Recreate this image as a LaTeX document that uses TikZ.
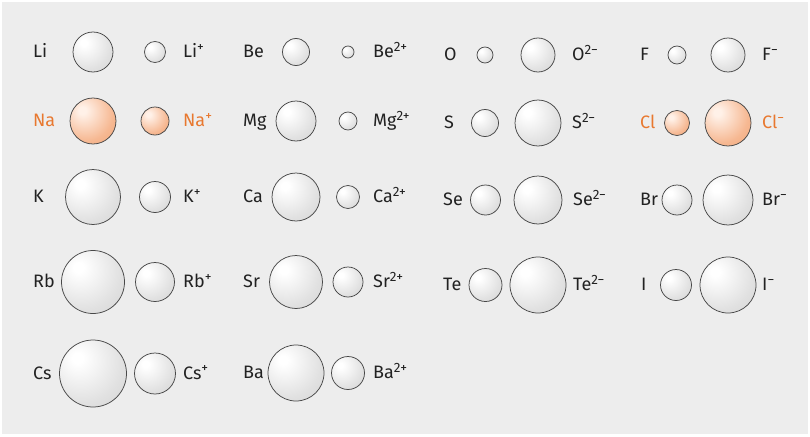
\documentclass[tikz,border=0pt]{standalone}
\usepackage{fontspec}
\setmainfont{Fira Sans}
\definecolor{bgc}{HTML}{EDEDED}
\definecolor{sphedge}{HTML}{C6C6C6}
\definecolor{sphmid}{HTML}{E1E1E1}
\definecolor{orgedge}{HTML}{EC9560}
\definecolor{orgmid}{HTML}{F6B892}
\definecolor{orghi}{HTML}{FFF1E8}
\definecolor{outl}{HTML}{484848}
\definecolor{txt}{HTML}{222222}
\definecolor{orgtxt}{HTML}{E8782F}
\pgfdeclareradialshading{graysph}{\pgfpoint{-12bp}{12bp}}{color(0bp)=(white); color(4bp)=(white); color(30bp)=(sphmid); color(62bp)=(sphedge); color(100bp)=(sphedge)}
\pgfdeclareradialshading{orgsph}{\pgfpoint{-12bp}{12bp}}{color(0bp)=(orghi); color(4bp)=(orghi); color(30bp)=(orgmid); color(62bp)=(orgedge); color(100bp)=(orgedge)}
\newcommand\chg[1]{\raisebox{0.36em}{\fontsize{13.5}{13.5}\selectfont #1}}
\tikzset{
  ball/.style={circle, draw=outl, line width=0.75pt, inner sep=0pt, shade, shading=graysph, minimum size=#1},
  oball/.style={circle, draw=outl, line width=0.75pt, inner sep=0pt, shade, shading=orgsph, minimum size=#1},
  lbl/.style={anchor=base west, inner sep=0pt, text=txt, font=\fontsize{18}{18}\selectfont},
  olbl/.style={lbl, text=orgtxt}
}
\begin{document}
\begin{tikzpicture}[x=1pt,y=-1pt]
\useasboundingbox (0,0) rectangle (810,436);
\fill[white] (0,0) rectangle (810,436);
\fill[bgc] (2,2) rectangle (808,434);
% group 1
\node[lbl]  (tLi)  at (33,57.5)  {Li};
\node[ball=40pt] (Li) at (93,52) {};
\node[ball=21pt] (Lip) at (155,52) {};
\node[lbl]  (tLip) at (183,57.5) {Li\chg{+}};
\node[olbl] (tNa)  at (33,126.5) {Na};
\node[oball=46pt] (Na) at (93,121) {};
\node[oball=28pt] (Nap) at (155,121) {};
\node[olbl] (tNap) at (183,126.5) {Na\chg{+}};
\node[lbl]  (tK)   at (33,202.5) {K};
\node[ball=55pt] (K) at (93,197) {};
\node[ball=31pt] (Kp) at (155,197) {};
\node[lbl]  (tKp)  at (183,202.5) {K\chg{+}};
\node[lbl]  (tRb)  at (33,287.5) {Rb};
\node[ball=63pt] (Rb) at (93,282) {};
\node[ball=39pt] (Rbp) at (155,282) {};
\node[lbl]  (tRbp) at (183,287.5) {Rb\chg{+}};
\node[lbl]  (tCs)  at (33,379) {Cs};
\node[ball=67pt] (Cs) at (93,373.5) {};
\node[ball=41pt] (Csp) at (155,373.5) {};
\node[lbl]  (tCsp) at (183,379) {Cs\chg{+}};
% group 2
\node[lbl]  (tBe)  at (243,57.5)  {Be};
\node[ball=27pt] (Be) at (296,52) {};
\node[ball=12pt] (Bep) at (348,52) {};
\node[lbl]  (tBep) at (373,57.5) {Be\chg{2+}};
\node[lbl]  (tMg)  at (243,126.5) {Mg};
\node[ball=40pt] (Mg) at (296,121) {};
\node[ball=18pt] (Mgp) at (348,121) {};
\node[lbl]  (tMgp) at (373,126.5) {Mg\chg{2+}};
\node[lbl]  (tCa)  at (243,202.5) {Ca};
\node[ball=48pt] (Ca) at (296,197) {};
\node[ball=23pt] (Cap) at (348,197) {};
\node[lbl]  (tCap) at (373,202.5) {Ca\chg{2+}};
\node[lbl]  (tSr)  at (243,287.5) {Sr};
\node[ball=53pt] (Sr) at (296,282) {};
\node[ball=30pt] (Srp) at (348,282) {};
\node[lbl]  (tSrp) at (373,287.5) {Sr\chg{2+}};
\node[lbl]  (tBa)  at (243,378.5) {Ba};
\node[ball=56pt] (Ba) at (296,373) {};
\node[ball=33pt] (Bap) at (348,373) {};
\node[lbl]  (tBap) at (373,378.5) {Ba\chg{2+}};
% group 3
\node[lbl]  (tO)   at (444,60.5) {O};
\node[ball=16pt] (O) at (485,55) {};
\node[ball=34pt] (Om) at (538,55) {};
\node[lbl]  (tOm)  at (572,60.5) {O\chg{2−}};
\node[lbl]  (tS)   at (444,128.5) {S};
\node[ball=27pt] (S) at (485,123) {};
\node[ball=46pt] (Sm) at (538,123) {};
\node[lbl]  (tSm)  at (572,128.5) {S\chg{2−}};
\node[lbl]  (tSe)  at (443,205.5) {Se};
\node[ball=30pt] (Se) at (485.5,200) {};
\node[ball=48pt] (Sem) at (538,200) {};
\node[lbl]  (tSem) at (573,205.5) {Se\chg{2−}};
\node[lbl]  (tTe)  at (443,290.5) {Te};
\node[ball=33pt] (Te) at (485.5,285) {};
\node[ball=56pt] (Tem) at (538,285) {};
\node[lbl]  (tTem) at (573,290.5) {Te\chg{2−}};
% group 4
\node[lbl]  (tF)   at (640,60.5) {F};
\node[ball=18pt] (F) at (677,55) {};
\node[ball=34pt] (Fm) at (728,55) {};
\node[lbl]  (tFm)  at (762,60.5) {F\chg{−}};
\node[olbl] (tCl)  at (640,128.5) {Cl};
\node[oball=25pt] (Cl) at (677,123) {};
\node[oball=46pt] (Clm) at (728,123) {};
\node[olbl] (tClm) at (762,128.5) {Cl\chg{−}};
\node[lbl]  (tBr)  at (640,205.5) {Br};
\node[ball=30pt] (Br) at (677,200) {};
\node[ball=50pt] (Brm) at (728,200) {};
\node[lbl]  (tBrm) at (762,205.5) {Br\chg{−}};
\node[lbl]  (tI)   at (641,290.5) {I};
\node[ball=31pt] (I) at (676,285) {};
\node[ball=56pt] (Im) at (728,285) {};
\node[lbl]  (tIm)  at (762,290.5) {I\chg{−}};
\end{tikzpicture}
\end{document}
